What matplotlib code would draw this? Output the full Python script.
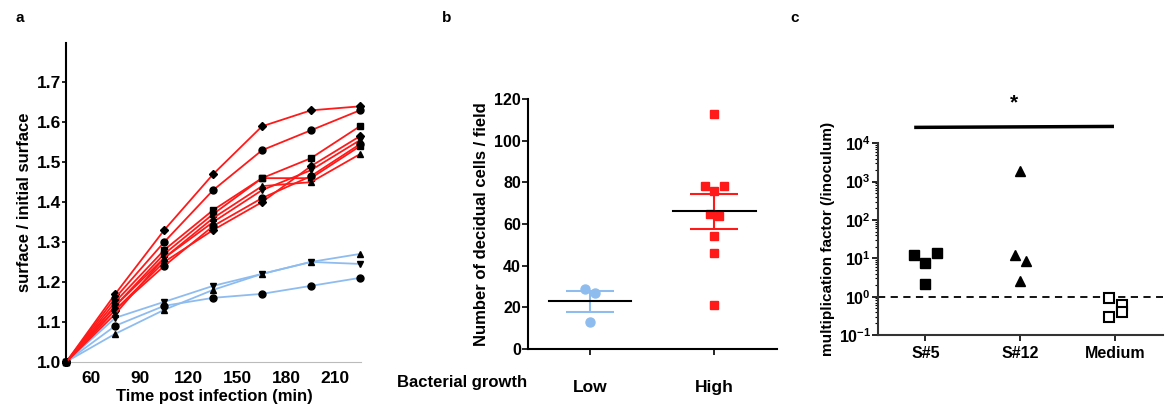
import numpy as np
import matplotlib.pyplot as plt
from matplotlib.ticker import LogLocator, NullFormatter

plt.rcParams['font.family'] = ['Liberation Sans', 'DejaVu Sans']
plt.rcParams['font.weight'] = 'bold'
plt.rcParams['mathtext.fontset'] = 'custom'
plt.rcParams['mathtext.rm'] = 'Liberation Sans:bold'
plt.rcParams['mathtext.bf'] = 'Liberation Sans:bold'

# ---- panel a: surface growth over time ----
time_min = [45, 75, 105, 135, 165, 195, 225]
red_curves = [
    [1.0, 1.17, 1.33, 1.47, 1.59, 1.63, 1.64],
    [1.0, 1.16, 1.30, 1.43, 1.53, 1.58, 1.63],
    [1.0, 1.15, 1.28, 1.38, 1.46, 1.51, 1.59],
    [1.0, 1.14, 1.27, 1.37, 1.46, 1.46, 1.54],
    [1.0, 1.13, 1.25, 1.33, 1.40, 1.49, 1.565],
    [1.0, 1.14, 1.26, 1.35, 1.43, 1.48, 1.555],
    [1.0, 1.13, 1.24, 1.34, 1.41, 1.465, 1.545],
    [1.0, 1.12, 1.26, 1.36, 1.44, 1.45, 1.52],
]
red_markers = ['D', 'o', 's', 's', 'D', 'v', 'o', '^']
blue_curves = [
    [1.0, 1.07, 1.13, 1.18, 1.22, 1.25, 1.27],
    [1.0, 1.11, 1.15, 1.19, 1.22, 1.25, 1.245],
    [1.0, 1.09, 1.14, 1.16, 1.17, 1.19, 1.21],
]
blue_markers = ['^', 'v', 'o']

# ---- panel b: decidual cells ----
b_groups = ['Low', 'High']
low_vals = [29, 27, 13]
low_jitter = [-0.04, 0.04, 0.0]
high_vals = [113, 78, 78, 76, 65, 64, 54, 46, 21]
high_jitter = [0.0, -0.08, 0.08, 0.0, -0.04, 0.04, 0.0, 0.0, 0.0]

# ---- panel c: multiplication factor ----
c_groups = ['S#5', 'S#12', 'Medium']
s5_vals = [12, 7.7, 14, 2.2]
s5_jitter = [-0.12, 0.0, 0.12, 0.0]
s12_vals = [1950, 12, 8.7, 2.6]
s12_jitter = [0.0, -0.06, 0.06, 0.0]
medium_vals = [0.9, 0.61, 0.39, 0.30]
medium_jitter = [-0.06, 0.07, 0.07, -0.06]

RED = '#ff1a1a'
BLUE = '#8fbcef'

fig = plt.figure(figsize=(11.66, 4.05), dpi=100)

# panel a
ax1 = fig.add_axes([0.057, 0.107, 0.253, 0.788])
for vals, m in zip(red_curves, red_markers):
    ax1.plot(time_min, vals, color=RED, lw=1.3, marker=m, ms=4.2 if m == 'D' else 5,
             mfc='black', mec='black', zorder=3, clip_on=False)
for vals, m in zip(blue_curves, blue_markers):
    ax1.plot(time_min, vals, color=BLUE, lw=1.3, marker=m, ms=5,
             mfc='black', mec='black', zorder=2, clip_on=False)
ax1.set_xlim(45, 226)
ax1.set_ylim(1.0, 1.8)
ax1.set_xticks([60, 90, 120, 150, 180, 210])
ax1.set_yticks([1.0, 1.1, 1.2, 1.3, 1.4, 1.5, 1.6, 1.7])
ax1.spines['top'].set_visible(False)
ax1.spines['right'].set_visible(False)
ax1.spines['left'].set_linewidth(1.5)
ax1.spines['bottom'].set_color('#bbbbbb')
ax1.tick_params(axis='x', length=0, pad=7, labelsize=12.5)
ax1.tick_params(axis='y', length=3, width=1.2, labelsize=12.5, pad=1)
ax1.set_xlabel('Time post infection (min)', fontsize=12, fontweight='bold', labelpad=2)
ax1.set_ylabel('surface / initial surface', fontsize=12, fontweight='bold', labelpad=3)

# panel b
ax2 = fig.add_axes([0.4528, 0.1383, 0.2133, 0.6173])
for i, (vals, jit, col, m, ms) in enumerate([(low_vals, low_jitter, BLUE, 'o', 6.5),
                                              (high_vals, high_jitter, RED, 's', 6)]):
    xs = [i + j for j in jit]
    ax2.plot(xs, vals, ls='none', marker=m, ms=ms, color=col, mec=col, zorder=3)
    mean = np.mean(vals)
    sem = np.std(vals, ddof=1) / np.sqrt(len(vals))
    ax2.errorbar(i, mean, yerr=sem, color=col, capsize=17, capthick=1.5, lw=1.5, zorder=2)
    ax2.plot([i - 0.33, i + 0.33], [mean, mean], color='black', lw=1.5, zorder=4)
ax2.set_xlim(-0.5, 1.5)
ax2.set_ylim(0, 120)
ax2.set_yticks([0, 20, 40, 60, 80, 100, 120])
ax2.set_xticks([0, 1])
ax2.set_xticklabels(b_groups)
ax2.spines['top'].set_visible(False)
ax2.spines['right'].set_visible(False)
ax2.spines['left'].set_linewidth(1.5)
ax2.spines['bottom'].set_linewidth(1.5)
ax2.tick_params(axis='x', length=4, width=1.2, pad=18, labelsize=12.5)
ax2.tick_params(axis='y', length=4, width=1.2, labelsize=11.5, pad=1)
ax2.set_ylabel('Number of decidual cells / field', fontsize=12, fontweight='bold', labelpad=4)
fig.text(0.452, 1 - 382 / 405, 'Bacterial growth', ha='right', va='center',
         fontsize=12, fontweight='bold')

# panel c
ax3 = fig.add_axes([0.753, 0.1728, 0.244, 0.4734])
ax3.set_yscale('log')
ax3.plot([0 + j for j in s5_jitter], s5_vals, ls='none', marker='s', ms=6.5,
         color='black', zorder=3)
ax3.plot([1 + j for j in s12_jitter], s12_vals, ls='none', marker='^', ms=6.5,
         color='black', zorder=3)
ax3.plot([2 + j for j in medium_jitter], medium_vals, ls='none', marker='s', ms=6.5,
         mfc='white', mec='black', mew=1.5, zorder=3)
ax3.axhline(1, color='black', lw=1.3, ls=(0, (4, 3)), zorder=1)
ax3.plot([-0.1, 1.97], [26000, 27500], color='black', lw=2.5, clip_on=False)
ax3.text(0.93, 1.15e5, '*', ha='center', va='center', fontsize=15, fontweight='bold')
ax3.set_xlim(-0.5, 2.5)
ax3.set_ylim(0.1, 1e4)
ax3.set_yticks([0.1, 1, 10, 100, 1000, 10000])
ax3.set_yticklabels([r'$\mathbf{10^{-1}}$', r'$\mathbf{10^{0}}$', r'$\mathbf{10^{1}}$',
                     r'$\mathbf{10^{2}}$', r'$\mathbf{10^{3}}$', r'$\mathbf{10^{4}}$'])
ax3.yaxis.set_minor_locator(LogLocator(base=10, subs=np.arange(2, 10)))
ax3.yaxis.set_minor_formatter(NullFormatter())
ax3.set_xticks([0, 1, 2])
ax3.set_xticklabels(c_groups)
ax3.spines['top'].set_visible(False)
ax3.spines['right'].set_visible(False)
ax3.spines['left'].set_linewidth(1.5)
ax3.spines['bottom'].set_linewidth(1.5)
ax3.spines['left'].set_color('#333333')
ax3.spines['bottom'].set_color('#333333')
ax3.tick_params(axis='x', length=4, width=1.2, pad=4, labelsize=11.5)
ax3.tick_params(axis='y', which='major', length=4, width=1.2, labelsize=11.5, pad=1)
ax3.tick_params(axis='y', which='minor', length=2, width=0.8)
ax3.set_ylabel('multiplication factor (/inoculum)', fontsize=11, fontweight='bold', labelpad=3)

# panel letters
fig.text(15 / 1166, 1 - 18 / 405, 'a', fontsize=11, fontweight='bold', va='center')
fig.text(442 / 1166, 1 - 18 / 405, 'b', fontsize=11, fontweight='bold', va='center')
fig.text(790 / 1166, 1 - 18 / 405, 'c', fontsize=11, fontweight='bold', va='center')

fig.savefig('out.png', dpi=100)
